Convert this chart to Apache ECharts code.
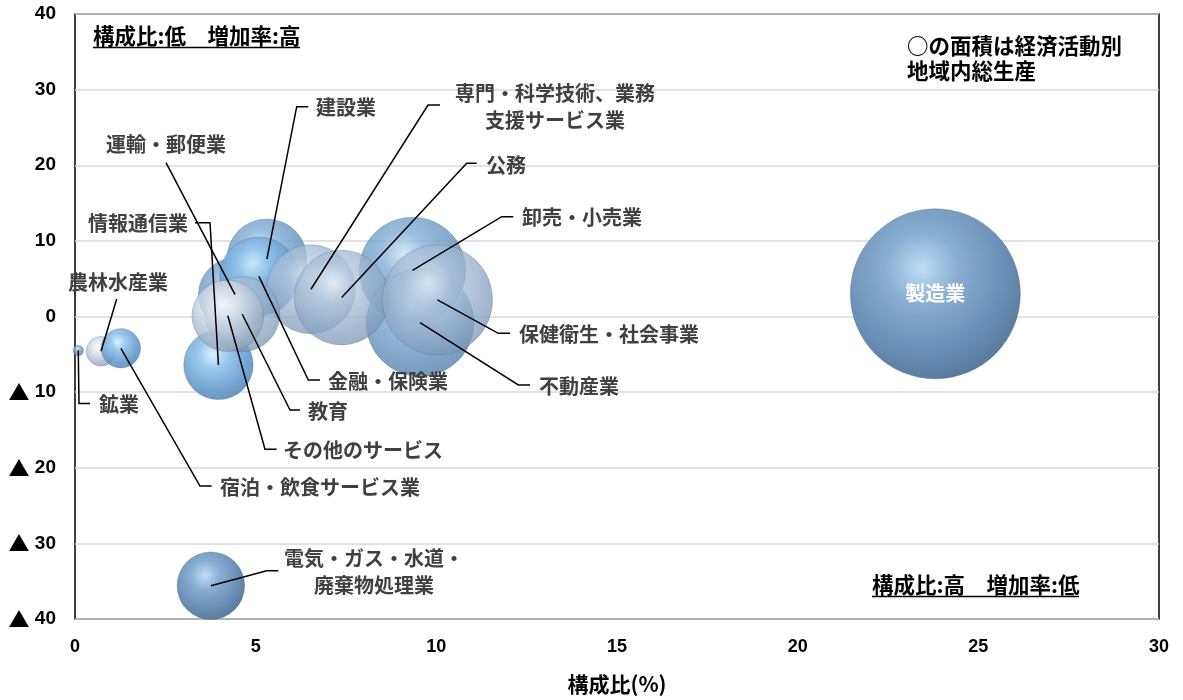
<!DOCTYPE html>
<html>
<head>
<meta charset="utf-8">
<script src="https://cdn.jsdelivr.net/npm/echarts@6/dist/echarts.min.js"></script>
<style>
html,body{margin:0;padding:0;background:#fff;}
#chart{width:1183px;height:700px;}
</style>
</head>
<body>
<div id="chart"></div>
<script>
// ---- data ----
const industries = ['農林水産業','鉱業','製造業','電気・ガス・水道・廃棄物処理業','建設業','卸売・小売業','運輸・郵便業','宿泊・飲食サービス業','情報通信業','金融・保険業','不動産業','専門・科学技術、業務支援サービス業','公務','教育','保健衛生・社会事業','その他のサービス'];
const share  = [0.72, 0.09, 23.81, 3.76, 5.31, 9.34, 4.43, 1.27, 3.97, 5.09, 9.55, 6.53, 7.38, 4.63, 10.03, 4.23]; // 構成比(%) = bubble size
const growth = [-4.6, -4.5, 3.0, -35.6, 7.6, 6.1, 2.9, -4.2, -6.4, 5.3, -0.8, 3.6, 2.5, 0.3, 2.2, 0.1];             // 増加率(%)
const xTicks = [0, 5, 10, 15, 20, 25, 30];
const yTicks = [-40, -30, -20, -10, 0, 10, 20, 30, 40];

// ---- styling / layout ----
const FONT = '"Noto Sans CJK JP", "Noto Sans", sans-serif';
const tone = {
  '農林水産業':'pale','鉱業':'blue','製造業':'steel','電気・ガス・水道・廃棄物処理業':'steel','建設業':'blue',
  '卸売・小売業':'blue','運輸・郵便業':'blue','宿泊・飲食サービス業':'bright','情報通信業':'bright','金融・保険業':'bright',
  '不動産業':'blue','専門・科学技術、業務支援サービス業':'light','公務':'light','教育':'light','保健衛生・社会事業':'light','その他のサービス':'pale'
};
const palettes = {
  steel:  {stops:['#bcdcf5','#82a9ce','#5f86ad','#4a6c8f'], opacity:0.95},
  blue:   {stops:['#c9e4f8','#84afd5','#6490ba','#557fa8'], opacity:0.82},
  bright: {stops:['#d4eefe','#8cc0ea','#6197ca','#4f84b6'], opacity:0.88},
  light:  {stops:['#eef5fb','#b1c7dd','#8aa6c4','#7592b1'], opacity:0.76},
  pale:   {stops:['#ffffff','#dbe3ec','#a7b6c8','#8797ac'], opacity:0.82}
};
function bubbleStyle(name){
  const p = palettes[tone[name]];
  return {
    opacity: p.opacity,
    borderColor:'rgba(70,100,135,0.45)', borderWidth:0.8,
    color: {type:'radial', x:0.42, y:0.35, r:0.72, colorStops:[
      {offset:0, color:p.stops[0]},{offset:0.3, color:p.stops[1]},
      {offset:0.72, color:p.stops[2]},{offset:1, color:p.stops[3]}]}
  };
}
// label anchor + leader elbow (pixel layout of annotations)
const labelLayout = {
  '農林水産業': {pts:[[116.7,299]], tx:118, ty:282, align:'center', text:'農林水産業'},
  '鉱業': {pts:[[79,403.5],[90,403.5]], tx:99, ty:404, align:'left', text:'鉱業'},
  '製造業': {pts:null, tx:0, ty:0, align:'center', text:'製造業', inside:true},
  '電気・ガス・水道・廃棄物処理業': {pts:[[266.7,570.7],[278.3,570.7]], tx:374, ty:572, align:'center', text:'電気・ガス・水道・\n廃棄物処理業'},
  '建設業': {pts:[[296.7,106.7],[308.3,106.7]], tx:316, ty:107, align:'left', text:'建設業'},
  '卸売・小売業': {pts:[[501.7,216.7],[513.3,216.7]], tx:522, ty:217, align:'left', text:'卸売・小売業'},
  '運輸・郵便業': {pts:[[166,162.7]], tx:166, ty:144, align:'center', text:'運輸・郵便業'},
  '宿泊・飲食サービス業': {pts:[[200,486],[211.7,486]], tx:220, ty:487, align:'left', text:'宿泊・飲食サービス業'},
  '情報通信業': {pts:[[210,222.7],[195,222.7]], tx:188, ty:223, align:'right', text:'情報通信業'},
  '金融・保険業': {pts:[[308.3,380],[320,380]], tx:328, ty:381, align:'left', text:'金融・保険業'},
  '不動産業': {pts:[[518.3,385],[530,385]], tx:539, ty:386, align:'left', text:'不動産業'},
  '専門・科学技術、業務支援サービス業': {pts:[[428,105],[440,105]], tx:555, ty:107, align:'center', text:'専門・科学技術、業務\n支援サービス業'},
  '公務': {pts:[[466.7,163.3],[476.7,163.3]], tx:486, ty:165, align:'left', text:'公務'},
  '教育': {pts:[[290,410],[300,410]], tx:308, ty:411, align:'left', text:'教育'},
  '保健衛生・社会事業': {pts:[[498.3,333.3],[510,333.3]], tx:519, ty:334, align:'left', text:'保健衛生・社会事業'},
  'その他のサービス': {pts:[[265,449.3],[276.7,449.3]], tx:283, ty:450, align:'left', text:'その他のサービス'}
};
const RADIUS_PER_SQRT = 85 / Math.sqrt(23.81); // px radius per sqrt(%)

const chart = echarts.init(document.getElementById('chart'), null, {renderer:'canvas'});

const bubbleData = industries.map((n,i)=>({name:n, value:[share[i], growth[i]], itemStyle:bubbleStyle(n)}));

const option = {
  animation:false,
  backgroundColor:'#fff',
  textStyle:{fontFamily:FONT},
  grid:{left:75, right:24, top:14, bottom:80, show:true, borderColor:'#000', borderWidth:1.5, backgroundColor:'transparent'},
  xAxis:{
    type:'value', min:xTicks[0], max:xTicks[xTicks.length-1], interval:5,
    axisLine:{show:false}, axisTick:{show:false}, splitLine:{show:false},
    axisLabel:{color:'#000', fontWeight:'bold', fontSize:18, margin:19, fontFamily:'"Liberation Sans", sans-serif'},
    name:'構成比(%)', nameLocation:'middle', nameGap:55,
    nameTextStyle:{color:'#000', fontWeight:'bold', fontSize:21, fontFamily:FONT}
  },
  yAxis:{
    type:'value', min:yTicks[0], max:yTicks[yTicks.length-1], interval:10,
    axisLine:{show:false}, axisTick:{show:false},
    splitLine:{show:true, lineStyle:{color:'#d9d9d9', width:1.5}},
    axisLabel:{color:'#000', fontWeight:'bold', fontSize:19, margin:19, fontFamily:'"Liberation Sans", sans-serif',
      formatter:v=> v<0 ? '{t|▲} '+(-v) : String(v),
      rich:{t:{fontSize:21, fontFamily:'"Noto Sans CJK JP", sans-serif', color:'#000', fontWeight:'bold'}}}
  },
  series:[
    {
      type:'scatter', data:bubbleData, z:2,
      symbolSize:(val)=> 2*RADIUS_PER_SQRT*Math.sqrt(val[0]),
      emphasis:{disabled:true}
    },
    {
      type:'custom', z:5, clip:false,
      data: industries.map((n,i)=>[share[i], growth[i]]),
      renderItem:(params, api)=>{
        const name = industries[params.dataIndex];
        const L = labelLayout[name];
        const c = api.coord([api.value(0), api.value(1)]);
        const children = [];
        if (L.inside){
          children.push({type:'text', style:{text:L.text, x:c[0], y:c[1], fill:'#fff', align:'center', verticalAlign:'middle',
            font:'bold 20px '+FONT}});
        } else {
          children.push({type:'polyline', shape:{points:[c].concat(L.pts)}, style:{stroke:'#000', lineWidth:1.5, fill:null}});
          children.push({type:'text', style:{text:L.text, x:L.tx, y:L.ty, fill:'#404040', align:L.align, verticalAlign:'middle',
            font:'bold 20px '+FONT, lineHeight:27}});
        }
        return {type:'group', children};
      }
    }
  ],
  graphic:[
    {type:'text', left:93, top:25, style:{text:'構成比:低　増加率:高', fill:'#000', font:'bold 21.5px '+FONT}},
    {type:'line', shape:{x1:93, y1:47.5, x2:300, y2:47.5}, style:{stroke:'#000', lineWidth:1.3}},
    {type:'text', left:872, top:574, style:{text:'構成比:高　増加率:低', fill:'#000', font:'bold 21.5px '+FONT}},
    {type:'line', shape:{x1:872, y1:596.5, x2:1079, y2:596.5}, style:{stroke:'#000', lineWidth:1.3}},
    {type:'text', left:907, top:33, style:{text:'○の面積は経済活動別\n地域内総生産', fill:'#000', font:'bold 21.5px '+FONT, lineHeight:25}}
  ]
};
chart.setOption(option);
</script>
</body>
</html>
